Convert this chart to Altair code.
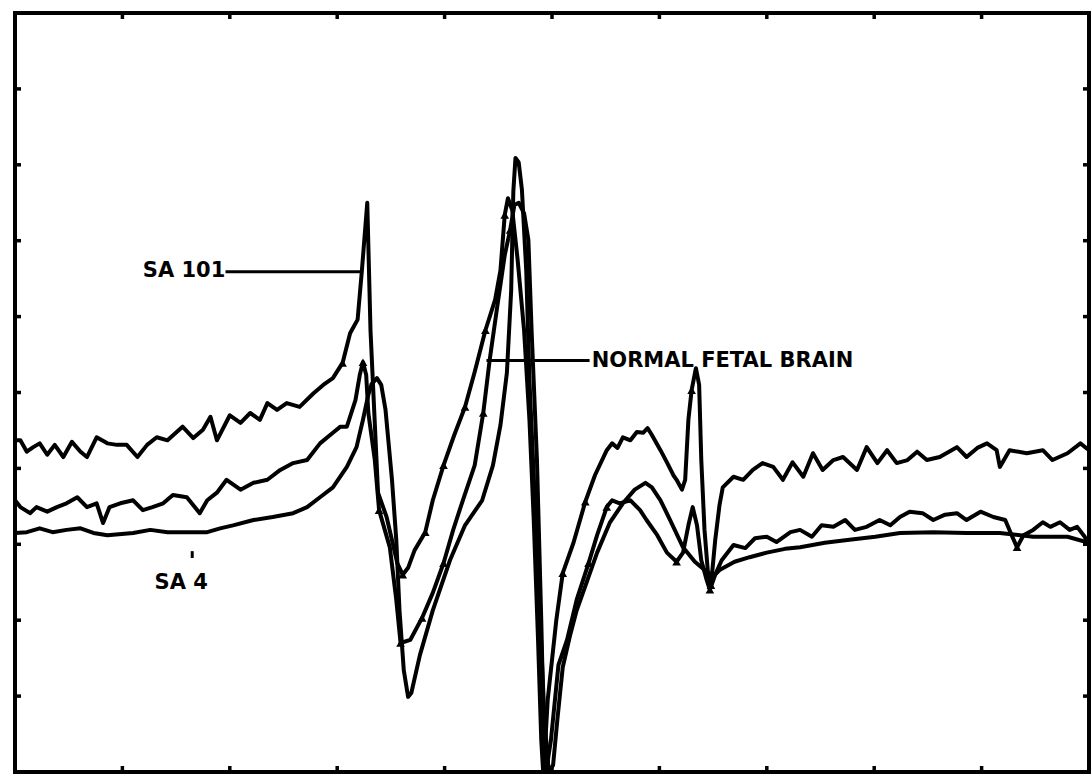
import altair as alt
import pandas as pd

# Three ESR spectra traced on a 0-100 grid (10 divisions per side)
sa101_x = [0, 0.5, 1.1, 1.7, 2.3, 3.0, 3.7, 4.5, 5.3, 6.1, 6.7, 7.6, 8.6, 9.5, 10.4, 11.4, 12.3, 13.2, 14.2,
           15.6, 16.6, 17.5, 18.2, 18.8, 20.0, 21.0, 21.9, 22.8, 23.5, 24.4, 25.3, 26.5, 27.8, 28.7, 29.6,
           30.5, 31.2, 31.9, 32.3, 32.8, 33.1, 33.4, 33.8, 34.6, 35.6, 36.1, 36.6, 37.2, 38.2, 38.9, 39.9,
           40.9, 41.9, 42.8, 43.8, 44.7, 45.2, 45.6, 45.9, 46.3, 46.8, 47.4, 47.9, 48.3, 48.7, 49.0, 49.2,
           49.6, 50.4, 51.0, 52.0, 53.1, 54.0, 55.1, 55.6, 56.1, 56.6, 57.3, 57.9, 58.5, 58.9, 59.3, 60.1,
           60.7, 61.3, 61.6, 62.1, 62.4, 62.7, 63.0, 63.4, 63.7, 63.9, 64.2, 64.5, 64.8, 65.2, 65.6, 65.9,
           66.9, 67.8, 68.7, 69.6, 70.6, 71.5, 72.4, 73.4, 74.3, 75.2, 76.2, 77.1, 78.4, 79.3, 80.3, 81.2,
           82.1, 83.1, 84.0, 84.9, 86.1, 87.7, 88.6, 89.6, 90.5, 91.4, 91.7, 92.6, 94.2, 95.7, 96.6, 98.0,
           99.2, 100]
sa101_y = [43.7, 43.7, 42.2, 42.8, 43.3, 41.8, 43.1, 41.5, 43.5, 42.2, 41.5, 44.1, 43.3, 43.1, 43.1, 41.5, 43.1, 44.1, 43.7,
           45.5, 44.0, 45.1, 46.8, 43.7, 47.0, 46.0, 47.3, 46.4, 48.6, 47.7, 48.6, 48.1, 49.9, 51.0, 51.9,
           53.9, 57.8, 59.6, 66.1, 75.0, 58.2, 49.0, 36.8, 33.6, 27.5, 26.0, 26.9, 29.2, 31.6, 35.8, 40.4,
           44.4, 48.1, 52.7, 58.2, 62.2, 66.1, 73.4, 75.6, 74.0, 67.5, 58.2, 46.4, 33.2, 17.4, 4.2, -0.5,
           9.5, 20.0, 26.2, 30.2, 35.6, 39.1, 42.4, 43.3, 42.7, 44.1, 43.7, 44.8, 44.7, 45.3, 44.4, 42.4,
           40.8, 39.1, 38.5, 37.2, 38.5, 46.4, 50.3, 53.2, 51.0, 41.1, 31.9, 26.6, 24.6, 30.6, 35.2, 37.5,
           38.9, 38.5, 39.8, 40.7, 40.2, 38.5, 40.8, 38.9, 42.0, 39.8, 41.1, 41.5, 39.8, 42.8, 40.7, 42.4,
           40.7, 41.1, 42.2, 41.1, 41.5, 42.8, 41.5, 42.7, 43.3, 42.4, 40.2, 42.4, 42.0, 42.4, 41.1, 42.0,
           43.3, 42.4]

fetal_x = [0, 0.5, 1.4, 2.0, 3.0, 3.9, 4.8, 5.8, 6.7, 7.6, 8.2, 8.8, 9.8, 11.0, 11.9, 12.8, 13.8, 14.7,
           16.0, 17.2, 17.9, 18.8, 19.7, 21.0, 22.2, 23.5, 24.7, 25.9, 27.2, 28.4, 29.6, 30.3, 30.9, 31.7,
           32.1, 32.4, 32.7, 32.9, 33.5, 33.9, 34.9, 35.5, 35.9, 36.8, 37.9, 38.9, 39.9, 40.8, 41.7, 42.8,
           43.6, 44.2, 44.9, 45.6, 46.1, 46.5, 46.9, 47.4, 47.8, 48.1, 48.6, 49.0, 49.3, 49.4, 49.9, 50.6,
           51.4, 52.3, 53.4, 54.2, 55.1, 55.6, 56.3, 57.3, 58.2, 58.8, 59.8, 60.7, 61.6, 62.2, 62.7, 63.1,
           63.5, 63.9, 64.4, 64.7, 65.2, 65.8, 66.9, 68.0, 68.9, 70.0, 70.9, 72.2, 73.1, 74.2, 75.1, 76.2,
           77.3, 78.2, 79.3, 80.5, 81.5, 82.4, 83.3, 84.5, 85.5, 86.6, 87.7, 88.6, 89.9, 91.1, 92.2, 92.8,
           93.3, 93.9, 94.8, 95.7, 96.4, 97.3, 98.2, 98.9, 99.6, 100]
fetal_y = [35.8, 34.9, 34.1, 34.9, 34.3, 34.9, 35.4, 36.2, 34.9, 35.4, 32.8, 34.9, 35.4, 35.8, 34.5, 34.9, 35.4, 36.5,
           36.2, 34.1, 35.8, 36.8, 38.5, 37.2, 38.1, 38.5, 39.8, 40.7, 41.1, 43.3, 44.7, 45.5, 45.5, 49.0,
           52.3, 54.0, 52.3, 47.3, 41.1, 34.5, 29.6, 22.7, 17.0, 17.4, 20.3, 23.6, 27.5, 31.9, 35.8, 40.4,
           47.3, 54.3, 61.3, 68.1, 71.4, 74.7, 75.0, 73.6, 70.1, 58.2, 41.1, 20.0, 1.6, -0.4, 4.2, 14.1,
           17.4, 22.7, 27.5, 31.2, 34.9, 35.8, 35.4, 35.8, 34.5, 33.2, 31.2, 28.9, 27.7, 28.9, 32.5, 34.9,
           32.5, 27.9, 25.3, 24.0, 26.0, 27.9, 29.9, 29.5, 30.8, 31.0, 30.3, 31.6, 31.9, 31.0, 32.5, 32.3,
           33.2, 31.9, 32.3, 33.2, 32.5, 33.6, 34.3, 34.1, 33.2, 33.9, 34.1, 33.2, 34.3, 33.6, 33.2, 31.2,
           29.6, 31.2, 31.9, 32.9, 32.3, 32.9, 31.9, 32.3, 31.0, 29.9]

sa4_x = [0, 1.1, 2.3, 3.5, 4.8, 6.1, 7.3, 8.6, 11.0, 12.6, 14.2, 16.0, 17.9, 19.1, 20.3, 22.2, 24.0, 25.9,
         27.2, 28.4, 29.6, 30.9, 31.8, 32.4, 32.9, 33.2, 33.7, 34.1, 34.5, 34.8, 35.1, 35.5, 35.8, 36.2,
         36.6, 36.9, 37.7, 38.9, 40.5, 41.9, 43.5, 44.5, 45.2, 45.8, 46.2, 46.4, 46.6, 46.9, 47.2, 47.6,
         47.9, 48.4, 48.9, 49.3, 49.7, 50.1, 50.5, 51.0, 51.7, 52.3, 53.3, 54.2, 55.4, 56.6, 57.7, 58.7,
         59.3, 60.1, 61.0, 62.2, 63.3, 64.4, 64.9, 65.6, 67.0, 68.4, 70.0, 71.7, 73.1, 75.4, 77.7, 80.1,
         82.4, 85.5, 88.6, 91.7, 94.8, 98.0, 100]
sa4_y = [31.5, 31.6, 32.1, 31.6, 31.9, 32.1, 31.5, 31.2, 31.5, 31.9, 31.6, 31.6, 31.6, 32.1, 32.5, 33.2, 33.6, 34.1,
         34.9, 36.2, 37.5, 40.2, 42.8, 46.4, 49.7, 51.1, 51.9, 51.0, 47.7, 43.1, 38.5, 30.6, 21.3, 13.4,
         9.9, 10.4, 15.4, 21.3, 27.9, 32.5, 35.8, 40.4, 45.7, 52.6, 63.5, 76.5, 80.9, 80.3, 76.7, 66.1,
         51.6, 35.8, 20.0, 6.9, 0.0, 0.9, 6.9, 13.8, 18.1, 21.3, 25.3, 28.9, 32.9, 35.4, 37.2, 38.1,
         37.5, 35.8, 33.2, 29.6, 27.7, 26.4, 25.6, 26.6, 27.7, 28.3, 28.9, 29.4, 29.6, 30.2, 30.6, 31.0,
         31.5, 31.6, 31.5, 31.5, 31.0, 31.0, 30.2]

# Plotter symbols along the two marked traces
marker_x = [30.5, 36.1, 38.2, 39.9, 41.9, 43.8, 45.6, 51.0, 53.1, 63.0, 64.8,
            32.4, 33.9, 35.9, 37.9, 39.9, 43.6, 46.1, 53.4, 55.1, 61.6, 64.7, 93.3]
marker_y = [53.9, 26.0, 31.6, 40.4, 48.1, 58.2, 73.4, 26.2, 35.6, 50.3, 24.6,
            54.0, 34.5, 17.0, 20.3, 27.5, 47.3, 71.4, 27.5, 34.9, 27.7, 24.0, 29.6]

tick_values = [10, 20, 30, 40, 50, 60, 70, 80, 90]

label_text = ["SA 101", "NORMAL FETAL BRAIN", "SA 4"]
label_x = [11.9, 53.7, 13.0]
label_y = [66.0, 54.2, 24.9]

leader_x = [19.6, 43.9, 16.5]
leader_x2 = [32.4, 53.5, 16.5]
leader_y = [65.9, 54.2, 29.1]
leader_y2 = [65.9, 54.2, 28.2]

rows = []
for name, xs, ys in [("SA 101", sa101_x, sa101_y), ("NORMAL FETAL BRAIN", fetal_x, fetal_y), ("SA 4", sa4_x, sa4_y)]:
    for i, (xv, yv) in enumerate(zip(xs, ys)):
        rows.append({"series": name, "idx": i, "x": xv, "y": yv})
traces = pd.DataFrame(rows)
markers = pd.DataFrame({"x": marker_x, "y": marker_y})
labels = pd.DataFrame({"text": label_text, "x": label_x, "y": label_y})
leaders = pd.DataFrame({"x": leader_x, "x2": leader_x2, "y": leader_y, "y2": leader_y2})
ticks_h = pd.DataFrame([{"x": t, "y": e} for t in tick_values for e in (0, 100)])
ticks_v = pd.DataFrame([{"x": e, "y": t} for t in tick_values for e in (0, 100)])

xs = alt.Scale(domain=[0, 100], nice=False, zero=False)
ys = alt.Scale(domain=[0, 100], nice=False, zero=False)
X = lambda f="x": alt.X(f"{f}:Q", scale=xs, axis=None)
Y = lambda f="y": alt.Y(f"{f}:Q", scale=ys, axis=None)

lines = alt.Chart(traces).mark_line(
    color="black", strokeWidth=4, clip=True, strokeJoin="round", strokeCap="round"
).encode(x=X(), y=Y(), detail="series:N", order="idx:Q")

points = alt.Chart(markers).mark_point(
    shape="triangle-up", filled=True, size=75, color="black", opacity=1
).encode(x=X(), y=Y())

edge_ticks_tb = alt.Chart(ticks_h).mark_tick(
    orient="vertical", size=12, thickness=3.5, color="black", clip=True, opacity=1
).encode(x=X(), y=Y())

edge_ticks_lr = alt.Chart(ticks_v).mark_tick(
    orient="horizontal", size=12, thickness=3.5, color="black", clip=True, opacity=1
).encode(x=X(), y=Y())

leader_lines = alt.Chart(leaders).mark_rule(color="black", strokeWidth=3).encode(
    x=X(), x2="x2:Q", y=Y(), y2="y2:Q"
)

texts = alt.Chart(labels).mark_text(
    align="left", baseline="middle", font="DejaVu Sans", fontWeight="bold", fontSize=21, color="black"
).encode(x=X(), y=Y(), text="text:N")

chart = alt.layer(lines, points, edge_ticks_tb, edge_ticks_lr, leader_lines, texts).properties(
    width=1074,
    height=759,
    padding={"left": 15, "top": 13, "right": 2, "bottom": 2},
    autosize=alt.AutoSizeParams(type="none"),
    background="white",
).configure_view(stroke="black", strokeWidth=4)

chart.save("out.html", embed_options={"renderer": "svg", "actions": False})
